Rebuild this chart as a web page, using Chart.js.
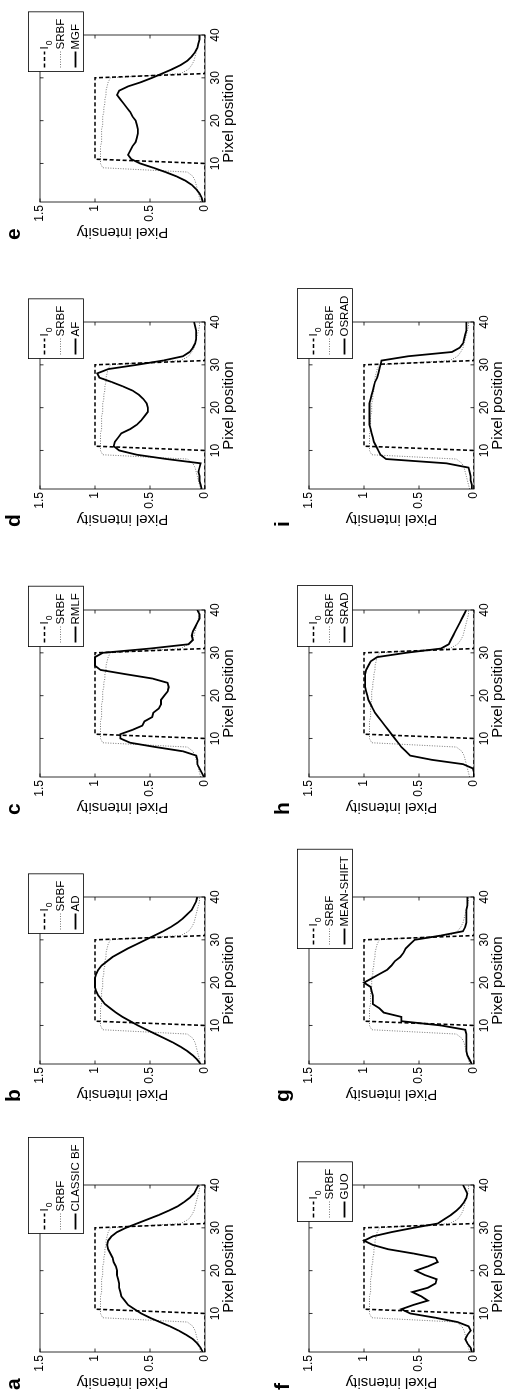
<!DOCTYPE html>
<html>
<head>
<meta charset="utf-8">
<script src="https://cdn.jsdelivr.net/npm/chart.js@4.4.1/dist/chart.umd.min.js"></script>
<style>
  html, body { margin: 0; padding: 0; background: #fff; }
  body { width: 508px; height: 1392px; overflow: hidden; position: relative; }
  /* the figure is laid out landscape and turned a quarter turn counter-clockwise */
  #figure {
    position: absolute; left: 0; top: 0;
    width: 1392px; height: 508px;
    transform-origin: 0 0;
    transform: translate(0, 1392px) rotate(-90deg);
  }
  .panel { position: absolute; }
  .panel canvas { display: block; }
  .tag {
    position: absolute;
    font: bold 21px 'Liberation Sans', Arial, sans-serif;
    line-height: 21px;
    color: #000;
  }
</style>
</head>
<body>
<div id="figure"></div>
<script>
const pixelPositions = [1, 2, 3, 4, 5, 6, 7, 8, 9, 10, 11, 12, 13, 14, 15, 16, 17, 18, 19, 20,
  21, 22, 23, 24, 25, 26, 27, 28, 29, 30, 31, 32, 33, 34, 35, 36, 37, 38, 39, 40];
const xTickValues = [10, 20, 30, 40];
const yTickValues = [0, 0.5, 1, 1.5];

// ideal step profile
const profileI0 = [0, 0, 0, 0, 0, 0, 0, 0, 0, 0, 1, 1, 1, 1, 1, 1, 1, 1, 1, 1,
  1, 1, 1, 1, 1, 1, 1, 1, 1, 1, 0, 0, 0, 0, 0, 0, 0, 0, 0, 0];
const profileSRBF = [0.04, 0.05, 0.06, 0.07, 0.08, 0.09, 0.11, 0.16, 0.93, 0.95, 0.95, 0.95, 0.95, 0.95, 0.94, 0.94, 0.94, 0.94, 0.93, 0.93,
  0.93, 0.92, 0.92, 0.91, 0.91, 0.90, 0.90, 0.89, 0.88, 0.86, 0.22, 0.15, 0.12, 0.10, 0.09, 0.08, 0.07, 0.06, 0.05, 0.05];

const profileClassicBF = [0.02, 0.04, 0.07, 0.11, 0.17, 0.24, 0.32, 0.41, 0.50, 0.58, 0.64, 0.70, 0.73, 0.76, 0.77, 0.78, 0.78, 0.79, 0.80, 0.80,
  0.81, 0.83, 0.84, 0.86, 0.88, 0.89, 0.88, 0.85, 0.80, 0.72, 0.62, 0.52, 0.42, 0.33, 0.25, 0.19, 0.14, 0.10, 0.08, 0.06];
const profileAD = [0.04, 0.07, 0.11, 0.16, 0.22, 0.29, 0.37, 0.45, 0.53, 0.61, 0.68, 0.75, 0.81, 0.86, 0.91, 0.94, 0.97, 0.99, 1.00, 1.00,
  1.00, 0.99, 0.97, 0.94, 0.89, 0.84, 0.77, 0.70, 0.62, 0.54, 0.46, 0.38, 0.31, 0.25, 0.20, 0.16, 0.12, 0.10, 0.08, 0.07];
const profileRMLF = [0.01, 0.03, 0.05, 0.07, 0.07, 0.08, 0.20, 0.45, 0.68, 0.77, 0.77, 0.66, 0.57, 0.55, 0.48, 0.47, 0.42, 0.40, 0.40, 0.37,
  0.34, 0.33, 0.34, 0.48, 0.72, 0.95, 1.00, 1.00, 1.00, 0.93, 0.50, 0.15, 0.11, 0.12, 0.11, 0.09, 0.07, 0.05, 0.05, 0.07];
const profileAF = [0.03, 0.04, 0.05, 0.05, 0.06, 0.05, 0.04, 0.35, 0.62, 0.78, 0.83, 0.82, 0.79, 0.76, 0.68, 0.62, 0.58, 0.55, 0.52, 0.52,
  0.53, 0.56, 0.60, 0.66, 0.75, 0.85, 0.96, 0.98, 0.88, 0.62, 0.38, 0.20, 0.14, 0.11, 0.09, 0.08, 0.08, 0.08, 0.09, 0.10];
const profileMGF = [0.02, 0.03, 0.05, 0.08, 0.12, 0.18, 0.26, 0.36, 0.47, 0.59, 0.67, 0.70, 0.68, 0.66, 0.63, 0.62, 0.61, 0.61, 0.62, 0.63,
  0.66, 0.68, 0.71, 0.74, 0.77, 0.80, 0.78, 0.70, 0.58, 0.48, 0.39, 0.30, 0.22, 0.16, 0.12, 0.09, 0.07, 0.06, 0.05, 0.05];
const profileGUO = [0.02, 0.03, 0.06, 0.08, 0.06, 0.03, 0.05, 0.15, 0.35, 0.58, 0.66, 0.55, 0.42, 0.48, 0.56, 0.42, 0.35, 0.34, 0.45, 0.53,
  0.42, 0.33, 0.35, 0.55, 0.78, 0.92, 1.00, 0.92, 0.75, 0.55, 0.33, 0.27, 0.21, 0.16, 0.12, 0.09, 0.07, 0.06, 0.08, 0.10];
const profileMeanShift = [0.02, 0.04, 0.06, 0.07, 0.07, 0.07, 0.07, 0.07, 0.08, 0.30, 0.66, 0.66, 0.82, 0.86, 0.92, 0.92, 0.92, 0.93, 0.94, 1.00,
  0.93, 0.86, 0.79, 0.75, 0.72, 0.67, 0.64, 0.62, 0.58, 0.54, 0.30, 0.10, 0.08, 0.07, 0.07, 0.07, 0.07, 0.06, 0.06, 0.06];
const profileSRAD = [0.00, 0.00, 0.01, 0.10, 0.38, 0.58, 0.62, 0.66, 0.69, 0.72, 0.75, 0.78, 0.81, 0.84, 0.87, 0.90, 0.92, 0.94, 0.96, 0.97,
  0.98, 0.99, 0.99, 0.99, 0.99, 0.98, 0.96, 0.94, 0.88, 0.62, 0.30, 0.23, 0.21, 0.19, 0.17, 0.15, 0.13, 0.11, 0.09, 0.07];
const profileOSRAD = [0.02, 0.02, 0.03, 0.03, 0.04, 0.05, 0.25, 0.80, 0.85, 0.87, 0.89, 0.91, 0.92, 0.93, 0.94, 0.95, 0.95, 0.95, 0.95, 0.95,
  0.95, 0.94, 0.93, 0.92, 0.91, 0.90, 0.88, 0.87, 0.86, 0.85, 0.84, 0.60, 0.20, 0.13, 0.10, 0.09, 0.08, 0.07, 0.07, 0.07];

const panelTags = ['a', 'b', 'c', 'd', 'e', 'f', 'g', 'h', 'i'];
const filterNames = ['CLASSIC BF', 'AD', 'RMLF', 'AF', 'MGF', 'GUO', 'MEAN-SHIFT', 'SRAD', 'OSRAD'];
const filterProfiles = [profileClassicBF, profileAD, profileRMLF, profileAF, profileMGF,
  profileGUO, profileMeanShift, profileSRAD, profileOSRAD];

const FONT = "'Liberation Sans', Arial, Helvetica, sans-serif";
const CANVAS_W = 272;
const CANVAS_H = 240;
const AREA_LEFT = 50;
const AREA_TOP = 40;
const BOX_W = 167;
const BOX_H = 165;
const COL_STEP = 287.5;
const ROW_TOPS = [40, 309];

Chart.defaults.font.family = FONT;
Chart.defaults.color = '#000';

function toPoints(values) {
  return values.map((v, i) => ({ x: pixelPositions[i], y: v }));
}

// axes frame with inward ticks, like a MATLAB box
const frameTicks = {
  id: 'frameTicks',
  afterDatasetsDraw(chart) {
    const { ctx, chartArea: a, scales } = chart;
    const len = 3.5;
    ctx.save();
    ctx.strokeStyle = '#000';
    ctx.lineWidth = 0.8;
    ctx.strokeRect(a.left, a.top, a.right - a.left, a.bottom - a.top);
    ctx.beginPath();
    xTickValues.forEach((v) => {
      const px = scales.x.getPixelForValue(v);
      ctx.moveTo(px, a.bottom); ctx.lineTo(px, a.bottom - len);
      ctx.moveTo(px, a.top); ctx.lineTo(px, a.top + len);
    });
    yTickValues.forEach((v) => {
      const py = scales.y.getPixelForValue(v);
      ctx.moveTo(a.left, py); ctx.lineTo(a.left + len, py);
      ctx.moveTo(a.right, py); ctx.lineTo(a.right - len, py);
    });
    ctx.stroke();
    ctx.restore();
  },
};

// boxed legend hanging over the upper right corner of the axes
const boxedLegend = {
  id: 'boxedLegend',
  afterDraw(chart) {
    const { ctx, chartArea: a } = chart;
    const sets = chart.data.datasets;
    const fontSize = 11.5;
    ctx.save();
    ctx.font = `${fontSize}px ${FONT}`;
    const widths = sets.map((ds) => {
      let w = ctx.measureText(ds.label).width;
      if (ds.subscript) w += 7;
      return w;
    });
    const w = 22 + Math.max(...widths) + 7;
    const h = 55;
    const x0 = Math.round(Math.min(a.right - 37, a.right + 47 - w)) + 0.5;
    const y0 = Math.round(a.top - 12) + 0.5;
    ctx.fillStyle = '#fff';
    ctx.fillRect(x0, y0, w, h);
    ctx.strokeStyle = '#000';
    ctx.lineWidth = 0.8;
    ctx.strokeRect(x0, y0, w, h);
    const rows = [16, 32, 47];
    sets.forEach((ds, i) => {
      const y = y0 + rows[i];
      ctx.beginPath();
      ctx.setLineDash(ds.borderDash || []);
      ctx.strokeStyle = ds.borderColor;
      ctx.lineWidth = ds.borderWidth;
      ctx.moveTo(x0 + 4, y);
      ctx.lineTo(x0 + 20, y);
      ctx.stroke();
      ctx.setLineDash([]);
      ctx.fillStyle = '#000';
      ctx.textBaseline = 'middle';
      ctx.font = `${fontSize}px ${FONT}`;
      ctx.fillText(ds.label, x0 + 22, y);
      if (ds.subscript) {
        const lw = ctx.measureText(ds.label).width;
        ctx.font = `${fontSize - 3}px ${FONT}`;
        ctx.fillText(ds.subscript, x0 + 23 + lw, y + 5);
      }
    });
    ctx.restore();
  },
};

const figure = document.getElementById('figure');

panelTags.forEach((tag, i) => {
  const row = i < 5 ? 0 : 1;
  const col = i < 5 ? i : i - 5;
  const boxLeft = Math.round(40 + col * COL_STEP);
  const boxTop = ROW_TOPS[row];

  const wrap = document.createElement('div');
  wrap.className = 'panel';
  wrap.style.left = `${boxLeft - AREA_LEFT}px`;
  wrap.style.top = `${boxTop - AREA_TOP}px`;
  const canvas = document.createElement('canvas');
  canvas.width = CANVAS_W;
  canvas.height = CANVAS_H;
  wrap.appendChild(canvas);
  figure.appendChild(wrap);

  const label = document.createElement('div');
  label.className = 'tag';
  label.textContent = tag;
  label.style.left = `${boxLeft - 38}px`;
  label.style.top = `${boxTop - 38}px`;
  figure.appendChild(label);

  new Chart(canvas, {
    type: 'line',
    data: {
      datasets: [
        {
          label: 'I',
          subscript: '0',
          data: toPoints(profileI0),
          borderColor: '#000',
          borderWidth: 1.6,
          borderDash: [4, 2.5],
          order: 2,
        },
        {
          label: 'SRBF',
          data: toPoints(profileSRBF),
          borderColor: '#777',
          borderWidth: 1,
          borderDash: [1, 1.5],
          order: 3,
        },
        {
          label: filterNames[i],
          data: toPoints(filterProfiles[i]),
          borderColor: '#000',
          borderWidth: 1.8,
          order: 1,
        },
      ],
    },
    options: {
      responsive: false,
      animation: false,
      devicePixelRatio: 1,
      events: [],
      layout: { padding: { left: 0, top: AREA_TOP, right: CANVAS_W - AREA_LEFT - BOX_W, bottom: 0 } },
      elements: { point: { radius: 0 }, line: { tension: 0, fill: false } },
      plugins: { legend: { display: false }, tooltip: { enabled: false } },
      scales: {
        x: {
          type: 'linear',
          min: 1,
          max: 40,
          grid: { display: false, drawTicks: false },
          border: { display: false },
          afterBuildTicks: (scale) => { scale.ticks = xTickValues.map((v) => ({ value: v })); },
          afterFit: (scale) => { scale.height = CANVAS_H - AREA_TOP - BOX_H; },
          ticks: { padding: 3, autoSkip: false, maxRotation: 0, font: { size: 12 }, callback: (v) => String(v) },
          title: {
            display: true,
            text: 'Pixel position',
            font: { size: 15 },
            padding: { top: 0, bottom: 2 },
          },
        },
        y: {
          type: 'linear',
          min: 0,
          max: 1.5,
          grid: { display: false, drawTicks: false },
          border: { display: false },
          afterBuildTicks: (scale) => { scale.ticks = yTickValues.map((v) => ({ value: v })); },
          afterFit: (scale) => { scale.width = AREA_LEFT; },
          ticks: { padding: 3, font: { size: 12 }, callback: (v) => String(v) },
          title: {
            display: true,
            text: 'Pixel intensity',
            font: { size: 15 },
            padding: { top: 11, bottom: 0 },
          },
        },
      },
    },
    plugins: [frameTicks, boxedLegend],
  });
});
</script>
</body>
</html>
